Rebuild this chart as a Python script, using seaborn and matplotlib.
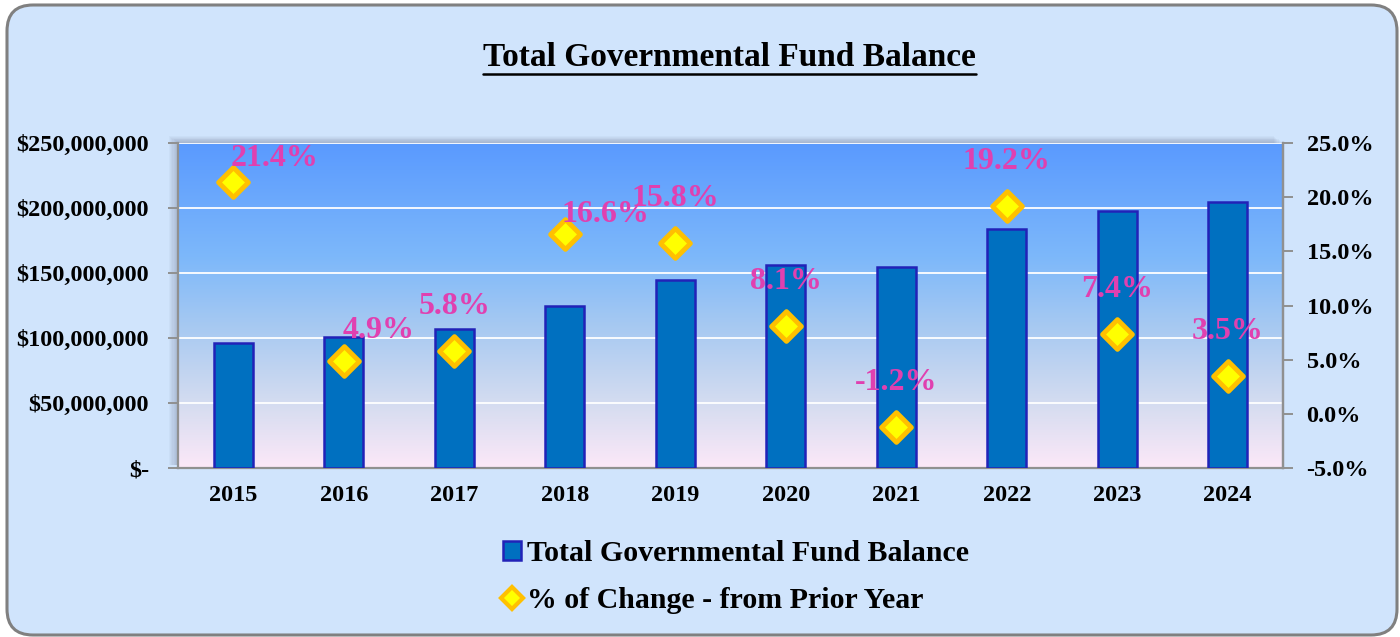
import numpy as np
import pandas as pd
import matplotlib
matplotlib.use("Agg")
import matplotlib.pyplot as plt
import seaborn as sns
from matplotlib.colors import LinearSegmentedColormap
from matplotlib.patches import FancyBboxPatch, Rectangle, Patch
from matplotlib.lines import Line2D
from matplotlib.ticker import FuncFormatter, MultipleLocator
from matplotlib.transforms import IdentityTransform

# data
years = ["2015", "2016", "2017", "2018", "2019", "2020", "2021", "2022", "2023", "2024"]
fund_balance = [96.2e6, 100.8e6, 107.0e6, 124.6e6, 144.6e6, 156.0e6, 154.6e6, 183.8e6, 197.7e6, 204.6e6]
pct_change = [21.4, 4.9, 5.8, 16.6, 15.8, 8.1, -1.2, 19.2, 7.4, 3.5]

# where each % label sits relative to its marker (points)
label_offsets = [(30, 17), (25, 22), (0, 32), (29, 14), (0, 32), (0, 32), (0, 32), (0, 32), (0, 32), (0, 32)]

df = pd.DataFrame({"year": years, "balance": fund_balance, "pct": pct_change})

sns.set_theme(style="white")
plt.rcParams["font.family"] = ["Liberation Serif", "DejaVu Serif"]
plt.rcParams["text.color"] = "black"
plt.rcParams["xtick.color"] = "black"
plt.rcParams["ytick.color"] = "black"

BG = "#D0E4FC"
BAR = "#0070C0"
BAR_EDGE = "#2222B8"
PINK = "#E040B0"

fig = plt.figure(figsize=(14, 6.37), dpi=100)
fig.patch.set_facecolor("white")

# rounded frame around the whole chart
frame = FancyBboxPatch((7, 2), 1390, 630, boxstyle="round,pad=0,rounding_size=26",
                       transform=IdentityTransform(), facecolor=BG, edgecolor="#808080",
                       linewidth=2.2, zorder=0)
fig.patches.append(frame)

ax_l, ax_b, ax_w, ax_h = 178 / 1400, 1 - 468 / 637, (1283 - 178) / 1400, (468 - 143) / 637

# soft shadow to the upper-left of the plot area
for i in range(1, 9):
    fig.patches.append(Rectangle((ax_l - i * 0.0008, ax_b + 0.004), ax_w, ax_h - 0.004 + i * 0.0014,
                                 transform=fig.transFigure, facecolor="#404060",
                                 edgecolor="none", alpha=0.035, zorder=0.5))

ax = fig.add_axes([ax_l, ax_b, ax_w, ax_h])
ax.set_zorder(2)

# gradient background of the plot area
grad = LinearSegmentedColormap.from_list("bg", [
    (0.0, "#FCE8F8"), (0.2, "#D4DCF0"), (0.45, "#A4C8F2"),
    (0.65, "#7DB8FA"), (1.0, "#5A9AFF")])
ax.imshow(np.linspace(0, 1, 256).reshape(-1, 1), aspect="auto", cmap=grad,
          extent=[0, 1, 0, 1], origin="lower", transform=ax.transAxes, zorder=0)

sns.barplot(data=df, x="year", y="balance", color=BAR, edgecolor=BAR_EDGE,
            linewidth=1.8, width=0.35, saturation=1, ax=ax, zorder=3)

ax.set_xlim(-0.5, len(years) - 0.5)
ax.set_ylim(0, 250e6)
ax.yaxis.set_major_locator(MultipleLocator(50e6))
ax.yaxis.set_major_formatter(FuncFormatter(lambda v, p: "$-" if v == 0 else f"${v:,.0f}"))
ax.grid(axis="y", color="white", linewidth=1.3, zorder=1)
ax.set_axisbelow(True)
ax.set_xlabel("")
ax.set_ylabel("")

for s in ["left", "bottom", "right"]:
    ax.spines[s].set_color("#909090")
    ax.spines[s].set_linewidth(1.6)
ax.spines["top"].set_visible(False)

ax.set_xticks(np.arange(len(years)))
ax.set_xticklabels(years)
ax.set_xticks(np.arange(len(years) + 1) - 0.5, minor=True)
ax.tick_params(axis="x", which="major", length=0, pad=12, labelsize=17.5)
ax.tick_params(axis="x", which="minor", length=7, width=1.4, color="#909090", direction="out")
ax.tick_params(axis="y", length=7, width=1.4, color="#909090", direction="out", left=True,
               labelsize=17.5, pad=14, labelcolor="black")
for t in ax.get_xticklabels() + ax.get_yticklabels():
    t.set_fontweight("bold")

# % change on the secondary axis
ax2 = ax.twinx()
sns.scatterplot(data=df, x="year", y="pct", marker="D", s=230, color="#FFFF00",
                edgecolor="#FFC000", linewidth=3.5, ax=ax2, zorder=5, legend=False)
ax2.set_ylim(-5, 25)
ax2.yaxis.set_major_locator(MultipleLocator(5))
ax2.yaxis.set_major_formatter(FuncFormatter(lambda v, p: f"{v:.1f}%"))
ax2.set_ylabel("")
ax2.grid(False)
for s in ["left", "top", "bottom"]:
    ax2.spines[s].set_visible(False)
ax2.spines["right"].set_color("#909090")
ax2.spines["right"].set_linewidth(1.6)
ax2.tick_params(axis="y", length=7, width=1.4, color="#909090", direction="out", right=True,
                labelsize=17.5, pad=10, labelcolor="black")
for t in ax2.get_yticklabels():
    t.set_fontweight("bold")

for i, (v, off) in enumerate(zip(pct_change, label_offsets)):
    ax2.annotate(f"{v:.1f}%", (i, v), xytext=off, textcoords="offset points",
                 ha="center", va="center", color=PINK, fontsize=23, fontweight="bold", zorder=6)

# title with underline
title = fig.text(0.521, 1 - 57 / 637, "Total Governmental Fund Balance", ha="center", va="center",
                 fontsize=24, fontweight="bold", color="black")
fig.canvas.draw()
bb = title.get_window_extent()
fig.add_artist(Line2D([bb.x0, bb.x1], [bb.y0 - 1, bb.y0 - 1], transform=IdentityTransform(),
                      color="black", linewidth=1.8))

handles = [
    Patch(facecolor=BAR, edgecolor=BAR_EDGE, linewidth=1.8),
    Line2D([], [], marker="D", linestyle="none", markersize=11, markerfacecolor="#FFFF00",
           markeredgecolor="#FFC000", markeredgewidth=3),
]
leg = fig.legend(handles, ["Total Governmental Fund Balance", "% of Change - from Prior Year"],
                 loc="center left", bbox_to_anchor=(476 / 1400, 1 - 577 / 637), frameon=False,
                 prop={"weight": "bold", "size": 21.5}, handlelength=0.6, handleheight=0.6,
                 handletextpad=0.2, labelspacing=0.65)
for t in leg.get_texts():
    t.set_color("black")

fig.savefig("out.png", dpi=100, facecolor="white")
